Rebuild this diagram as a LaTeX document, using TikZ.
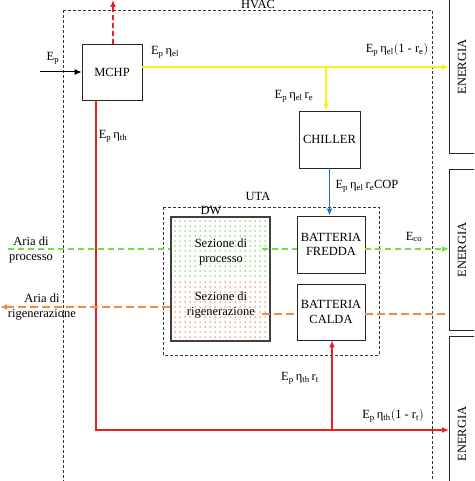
\documentclass[tikz,border=0pt]{standalone}
\usepackage{fontspec}
\setmainfont{Liberation Serif}
\usetikzlibrary{arrows.meta}

\definecolor{rosso}{RGB}{232,32,36}
\definecolor{giallo}{RGB}{250,242,20}
\definecolor{blu}{RGB}{24,112,192}
\definecolor{verde}{RGB}{112,226,64}
\definecolor{arancio}{RGB}{238,140,72}
\definecolor{verdepunti}{RGB}{70,205,40}
\definecolor{aranciopunti}{RGB}{232,115,45}

\newcommand{\Ep}{E\textsubscript{p}}
\newcommand{\etael}{η\textsubscript{el}}
\newcommand{\etath}{η\textsubscript{th}}

\tikzset{
  blocco/.style={draw=black!85, line width=0.9pt, align=center, inner sep=0pt, font=\fontsize{12.5}{14.5}\selectfont},
  testo/.style={align=center, inner sep=0pt, font=\fontsize{12.5}{15}\selectfont},
  tratto/.style={draw=black!80, line width=0.9pt, dash pattern=on 3pt off 2pt},
  punta/.style={-{Latex[length=7pt,width=6pt]}}
}

\begin{document}
\begin{tikzpicture}[x=1pt,y=-1pt]
\clip (0,0) rectangle (474,481);

% contorno HVAC
\draw[tratto] (63,10) rectangle (432,500);
\node[testo, anchor=base] (hvac) at (258,9) {HVAC};

% blocchi ENERGIA
\draw[draw=black!85, line width=0.9pt] (449,-5) rectangle (500,153);
\draw[draw=black!85, line width=0.9pt] (449,169) rectangle (500,330);
\draw[draw=black!85, line width=0.9pt] (449,336) rectangle (500,500);
\node[testo, rotate=90] (en1) at (462,67) {ENERGIA};
\node[testo, rotate=90] (en2) at (462,250) {ENERGIA};
\node[testo, rotate=90] (en3) at (462,434) {ENERGIA};
\coordinate (fine1) at (449,67);
\coordinate (fine2) at (449,249);
\coordinate (fine3) at (449,314);
\coordinate (fine4) at (449,430);

% blocchi
\node[blocco, minimum width=60, minimum height=56] (mchp) at (112,72) {MCHP};
\node[blocco, minimum width=61, minimum height=57] (chiller) at (329.5,139.5) {CHILLER};
\node[blocco, minimum width=68, minimum height=57] (fredda) at (331,244.5) {BATTERIA\\FREDDA};
\node[blocco, minimum width=68, minimum height=56] (calda) at (331,312) {BATTERIA\\CALDA};

% UTA e DW
\draw[tratto] (163,207) rectangle (379,355);
\node[testo] (uta) at (258,196) {UTA};
\node[blocco, draw=black!75, line width=1.2pt, minimum width=99, minimum height=124] (dw) at (220.5,279) {};
\node[testo] (dwlab) at (211,211) {DW};

% puntini della ruota
\foreach \i in {0,...,18} {
  \foreach \j in {0,...,11} {
    \fill[verdepunti] ({175+5*\i},{221+5*\j}) circle (0.75pt);
    \fill[aranciopunti] ({175+5*\i},{282+5*\j}) circle (0.75pt);
  }
}
\node[testo] (processo) at (221,252) {Sezione di\\processo};
\node[testo] (rigen) at (221,305) {Sezione di\\rigenerazione};

% ingresso energia primaria
\coordinate (ep) at (40,72);
\draw[line width=1pt, punta] (ep) -- (mchp.west);
\node[testo] (eplab) at (53,58) {\Ep};

% perdite verso l'alto
\coordinate (alto) at (113,0);
\draw[rosso, line width=1.2pt, dash pattern=on 5pt off 3pt, punta] (mchp.north -| alto) -- (alto);

% ramo elettrico
\coordinate (el) at (142,67);
\coordinate (elc) at (326,67);
\draw[giallo, line width=1.8pt, punta] (el) -- (fine1);
\draw[giallo, line width=1.8pt, punta] (elc) -- (elc |- chiller.north);
\node[testo] (l1) at (165,52) {\Ep\,\etael};
\node[testo] (l2) at (397,50) {\Ep\,\etael$\bigl($1 - r\textsubscript{e}$\bigr)$};
\node[testo] (l3) at (294,96) {\Ep\,\etael\,r\textsubscript{e}};

% freddo
\draw[blu, line width=1.5pt, punta] (chiller.south) -- (chiller.south |- fredda.north);
\node[testo] (l4) at (367,186) {\Ep\,\etael\,r\textsubscript{e}COP};

% ramo termico
\coordinate (th) at (96,430);
\coordinate (thc) at (332,430);
\draw[rosso, line width=1.5pt, punta] (mchp.south -| th) -- (th) -- (fine4);
\draw[rosso, line width=1.5pt, punta] (thc) -- (thc |- calda.south);
\node[testo] (l5) at (113,136) {\Ep\,\etath};
\node[testo] (l6) at (300,378) {\Ep\,\etath\,r\textsubscript{t}};
\node[testo] (l7) at (393,416) {\Ep\,\etath$\bigl($1 - r\textsubscript{t}$\bigr)$};

% aria di processo
\coordinate (pv) at (8,249);
\coordinate (pvdw) at (262,249);
\draw[verde, line width=1.2pt, dash pattern=on 6pt off 4pt] (pv) -- (pv -| dw.west);
\draw[verde, line width=1.2pt, dash pattern=on 6pt off 4pt] (pvdw) -- (pvdw -| fredda.west);
\draw[verde, line width=1.2pt, dash pattern=on 6pt off 4pt, punta] (pv -| fredda.east) -- (fine2);
\node[testo] (apr) at (31,250) {Aria di\\processo};
\node[testo] (eco) at (414,237) {E\textsubscript{co}};

% aria di rigenerazione
\coordinate (rg) at (0,307);
\coordinate (rgdw) at (262,314);
\draw[arancio, line width=1.3pt, dash pattern=on 8pt off 4pt, punta] (rg -| dw.west) -- (rg);
\draw[arancio, line width=1.3pt, dash pattern=on 8pt off 4pt] (rgdw) -- (rgdw -| calda.west);
\draw[arancio, line width=1.3pt, dash pattern=on 8pt off 4pt] (rgdw -| calda.east) -- (fine3);
\node[testo] (arg) at (42,307) {Aria di\\rigenerazione};

\end{tikzpicture}
\end{document}
